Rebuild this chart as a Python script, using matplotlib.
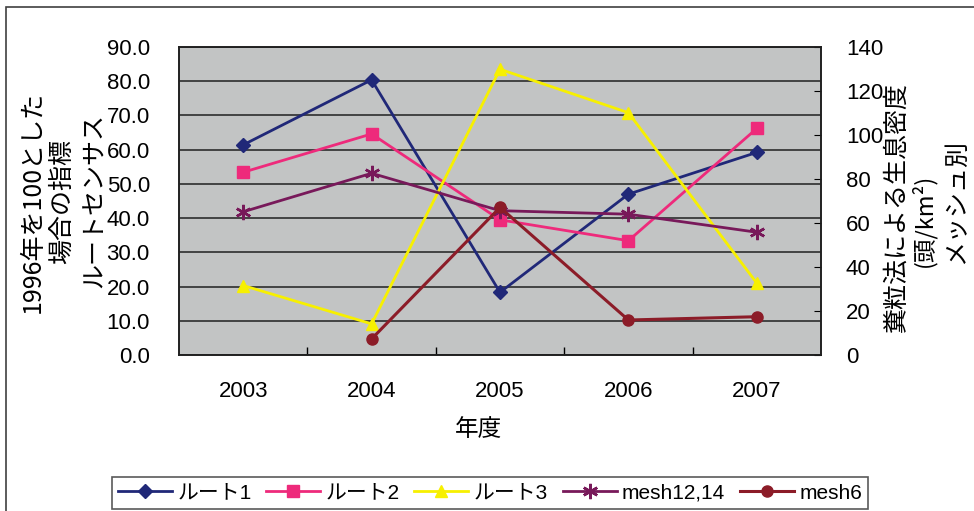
"""Route census index and pellet-count density by year (two y axes)."""
import matplotlib
matplotlib.use("Agg")
import matplotlib.pyplot as plt
from matplotlib.patches import Rectangle
import numpy as np

plt.rcParams["font.family"] = ["Liberation Sans", "Noto Sans CJK JP"]

years = ["2003", "2004", "2005", "2006", "2007"]

# left axis: route census index (1996 = 100)
route1 = [61.4, 80.4, 18.3, 47.0, 59.2]
route2 = [53.4, 64.6, 39.5, 33.4, 66.2]
route3 = [20.3, 9.1, 83.5, 70.8, 21.0]

# right axis: pellet-count density per mesh (head/km2)
mesh12_14 = [65.1, 82.6, 65.6, 64.0, 55.8]
mesh6 = [np.nan, 7.3, 67.1, 15.9, 17.4]

NAVY = "#202878"
PINK = "#EE2A7B"
YELLOW = "#F7F000"
PURPLE = "#78195A"
DARKRED = "#8C1C28"
JP = ["Noto Sans CJK JP", "DejaVu Sans"]

W, H = 974, 511
fig = plt.figure(figsize=(W / 100, H / 100), dpi=100)
ax = fig.add_axes([179 / W, 1 - 355 / H, 642 / W, 308 / H])
ax.set_facecolor("#C2C4C4")
ax2 = ax.twinx()

x = np.arange(len(years))

ax.plot(x, route1, color=NAVY, lw=2, marker="D", ms=7, label="ルート1", zorder=3)
ax.plot(x, route2, color=PINK, lw=2, marker="s", ms=8, label="ルート2", zorder=3)
ax.plot(x, route3, color=YELLOW, lw=2, marker="^", ms=9, label="ルート3", zorder=3)
ax2.plot(x, mesh12_14, color=PURPLE, lw=2, marker=(6, 2, 0), ms=11, mew=1.8,
         label="mesh12,14")
ax2.plot(x, mesh6, color=DARKRED, lw=2.2, marker="o", ms=8, label="mesh6")

# left axis
ax.set_xlim(-0.5, len(years) - 0.5)
ax.set_ylim(0, 90)
ax.set_yticks(np.arange(0, 91, 10))
ax.set_yticklabels([f"{v:.1f}" for v in np.arange(0, 91, 10)], fontsize=16)
ax.tick_params(axis="y", length=0, pad=21)
ax.yaxis.grid(True, color="#202020", lw=1.1)
ax.set_axisbelow(True)

# category axis: labels at centres, tick marks between categories
ax.set_xticks(x)
ax.set_xticklabels(years, fontsize=16)
ax.set_xticks(np.arange(0.5, len(years) - 0.5, 1), minor=True)
ax.tick_params(axis="x", which="major", length=0, pad=19)
ax.tick_params(axis="x", which="minor", direction="in", length=6, width=1)

# right axis
ax2.set_ylim(0, 140)
ax2.set_yticks(np.arange(0, 141, 20))
ax2.set_yticklabels([str(v) for v in range(0, 141, 20)], fontsize=16)
ax2.tick_params(axis="y", direction="in", length=5, pad=18)

for a in (ax, ax2):
    for s in a.spines.values():
        s.set_color("#202020")
        s.set_linewidth(1.2)

# axis titles
fig.text(479 / W, 1 - 430 / H, "年度", ha="center", va="center", fontsize=17, family=JP)
fig.text(33 / W, 1 - 202 / H, "1996年を100とした", rotation=90, ha="center", va="center",
         fontsize=18, family=JP)
fig.text(62 / W, 1 - 201 / H, "場合の指標", rotation=90, ha="center", va="center",
         fontsize=18, family=JP)
fig.text(95 / W, 1 - 201 / H, "ルートセンサス", rotation=90, ha="center", va="center",
         fontsize=18, family=JP)
fig.text(897 / W, 1 - 208 / H, "糞粒法による生息密度", rotation=90, ha="center", va="center",
         fontsize=18, family=JP)
fig.text(924 / W, 1 - 220 / H, "(頭/km²)", rotation=90, ha="center", va="center",
         fontsize=17, family=JP)
fig.text(956 / W, 1 - 201 / H, "メッシュ別", rotation=90, ha="center", va="center",
         fontsize=18, family=JP)

# legend
h1, l1 = ax.get_legend_handles_labels()
h2, l2 = ax2.get_legend_handles_labels()
leg = fig.legend(h1 + h2, l1 + l2, ncol=5, loc="center", bbox_to_anchor=(490 / W, 1 - 493 / H),
                 fontsize=15, frameon=True, fancybox=False, edgecolor="#303030",
                 handlelength=2.6, handletextpad=0.25, columnspacing=0.7,
                 borderpad=0.3)
leg.get_frame().set_linewidth(1.2)

# outer chart frame
fig.patches.append(Rectangle((6 / W, -0.02), 1.05, 1 - 7 / H + 0.02, transform=fig.transFigure,
                             fill=False, ec="#404040", lw=1.2))

fig.savefig("out.png", dpi=100)
